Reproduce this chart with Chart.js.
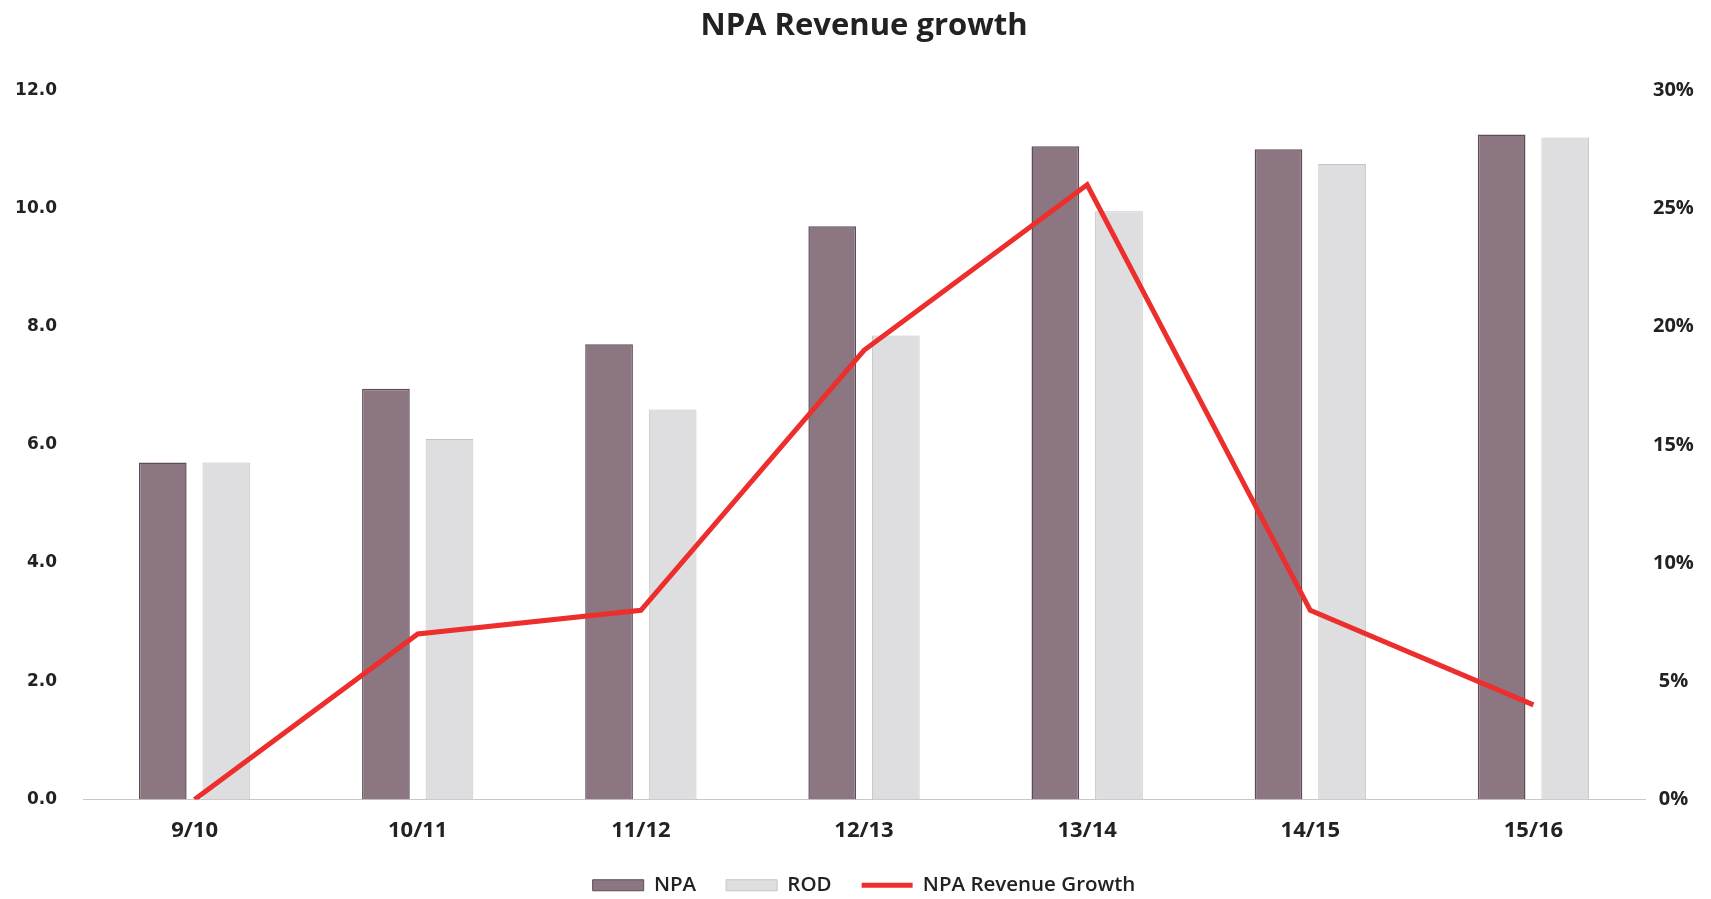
<!DOCTYPE html>
<html>
<head>
<meta charset="utf-8">
<script src="https://cdn.jsdelivr.net/npm/chart.js@4"></script>
<style>
  html, body { margin: 0; padding: 0; background: #fff; }
  #wrap { position: relative; width: 1711px; height: 899px; }
</style>
</head>
<body>
<div id="wrap"><canvas id="npaChart"></canvas></div>
<script>
const categories = ["9/10", "10/11", "11/12", "12/13", "13/14", "14/15", "15/16"];
const npaValues = [5.7, 6.95, 7.7, 9.7, 11.05, 11.0, 11.25];
const rodValues = [5.7, 6.1, 6.6, 7.85, 9.95, 10.75, 11.2];
const growthValues = [0, 7, 8, 19, 26, 8, 4];
const leftTicks = [0, 2, 4, 6, 8, 10, 12];
const rightTicks = [0, 5, 10, 15, 20, 25, 30];

const ctx = document.getElementById("npaChart").getContext("2d");

new Chart(ctx, {
  type: "bar",
  data: {
    labels: categories,
    datasets: [
      {
        label: "NPA",
        data: npaValues,
        backgroundColor: "#8c7682",
        borderColor: "#5f4c56",
        borderWidth: 1.5,
        yAxisID: "y",
        order: 1,
        categoryPercentage: 0.57,
        barPercentage: 0.75,
      },
      {
        label: "ROD",
        data: rodValues,
        backgroundColor: "#dedee0",
        borderColor: "#c4c4c6",
        borderWidth: 1,
        yAxisID: "y",
        order: 1,
        categoryPercentage: 0.57,
        barPercentage: 0.75,
      },
      {
        type: "line",
        label: "NPA Revenue Growth",
        data: growthValues,
        borderColor: "#ec2f2c",
        backgroundColor: "#ec2f2c",
        borderWidth: 5,
        pointRadius: 0,
        tension: 0,
        yAxisID: "y1",
        order: 0,
      },
    ],
  },
  options: {
    responsive: true,
    maintainAspectRatio: false,
    animation: false,
    // negative right padding moves the centre of title/legend over the plot area
    layout: { padding: { top: 0, right: -17, bottom: -6.5, left: 0 } },
    scales: {
      x: {
        grid: { display: false, drawTicks: false },
        border: { display: true, color: "#c8c8c8", width: 1 },
        ticks: {
          padding: 18,
          color: "#222",
          font: { family: "Open Sans", size: 22, weight: "bold" },
        },
        afterFit: (scale) => { scale.height = 45.5; },
      },
      y: {
        position: "left",
        min: 0,
        max: 12,
        afterBuildTicks: (scale) => { scale.ticks = leftTicks.map((v) => ({ value: v })); },
        grid: { display: false, drawTicks: false },
        border: { display: false },
        ticks: {
          padding: 26,
          color: "#222",
          font: { family: "DejaVu Sans", size: 17, weight: "bold" },
          callback: (v) => Number(v).toFixed(1),
        },
        afterFit: (scale) => { scale.width = 83; },
      },
      y1: {
        position: "right",
        min: 0,
        max: 30,
        afterBuildTicks: (scale) => { scale.ticks = rightTicks.map((v) => ({ value: v })); },
        grid: { display: false, drawTicks: false },
        border: { display: false },
        ticks: {
          crossAlign: "center",
          padding: 8,
          color: "#222",
          font: { family: "Open Sans", size: 20, weight: "bold" },
          callback: (v) => v + "%",
        },
        afterFit: (scale) => { scale.width = 83; },
      },
    },
    plugins: {
      title: {
        display: true,
        text: "NPA Revenue growth",
        color: "#222",
        font: { family: "Open Sans", size: 31, weight: "bold" },
        padding: { top: 8, bottom: 45 },
      },
      legend: {
        position: "bottom",
        labels: {
          usePointStyle: true,
          pointStyleWidth: 51,
          boxHeight: 11,
          padding: 30,
          color: "#222",
          font: { family: "Open Sans", size: 20.5, weight: "600" },
          sort: (a, b) => a.datasetIndex - b.datasetIndex,
          generateLabels: (chart) => {
            const items = Chart.defaults.plugins.legend.labels.generateLabels(chart);
            return items.map((item) => {
              if (item.datasetIndex === 2) {
                item.pointStyle = "line";
                item.lineWidth = 5;
              } else {
                item.pointStyle = "rect";
                item.lineWidth = 1;
              }
              return item;
            });
          },
        },
      },
      tooltip: { enabled: false },
    },
  },
});
</script>
</body>
</html>
